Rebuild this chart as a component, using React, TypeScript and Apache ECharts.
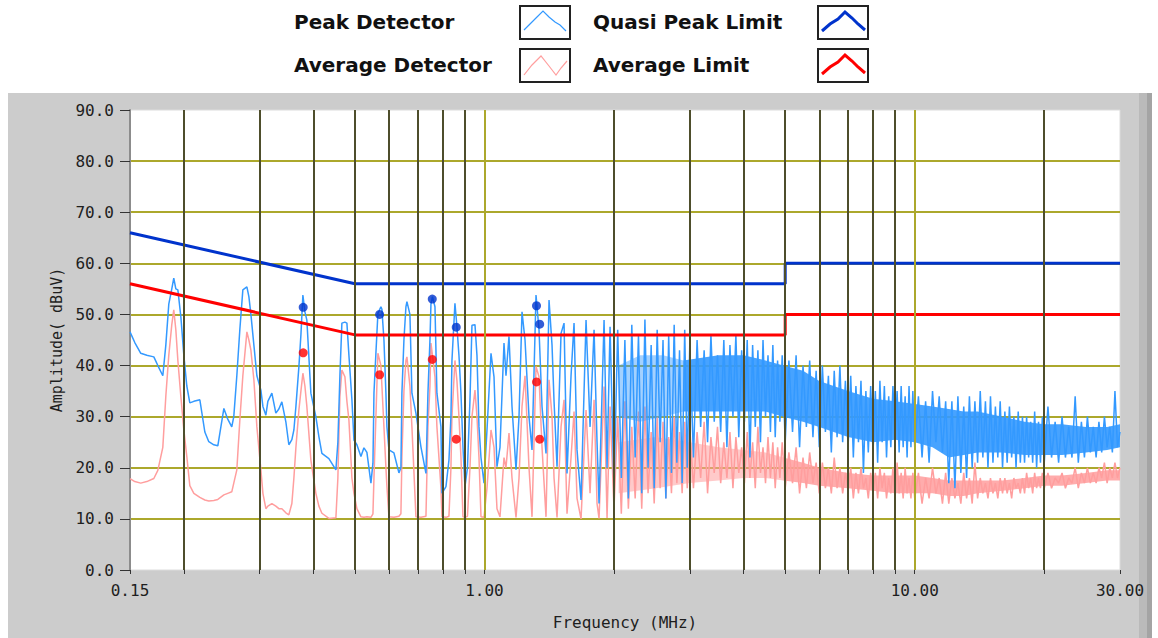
import React, { useEffect, useRef } from "react";
import * as echarts from "echarts";

// ---- Low-frequency part of the sweep (0.15 - 2 MHz) ----
const lowFreq = [
  0.150, 0.1539, 0.1589, 0.1641, 0.1704, 0.1741, 0.1788, 0.1817, 0.1846, 0.1876,
  0.1896, 0.1917, 0.1938, 0.1969, 0.2001, 0.2033, 0.2066, 0.2111, 0.2180, 0.2239,
  0.2287, 0.2349, 0.2400, 0.2479, 0.2531, 0.2586, 0.2614, 0.2657, 0.2700, 0.2744,
  0.2804, 0.2834, 0.2865, 0.2911, 0.2958, 0.3022, 0.3055, 0.3104, 0.3137, 0.3205,
  0.3274, 0.3327, 0.3381, 0.3454, 0.3510, 0.3567, 0.3606, 0.3645, 0.3704, 0.3744,
  0.3784, 0.3825, 0.3865, 0.3949, 0.4056, 0.4122, 0.4189, 0.4349, 0.4515, 0.4563,
  0.4613, 0.4662, 0.4738, 0.4789, 0.4841, 0.4919, 0.4973, 0.5052, 0.5162, 0.5246,
  0.5330, 0.5446, 0.5505, 0.5535, 0.5593, 0.5653, 0.5745, 0.5776, 0.5839, 0.5901,
  0.5933, 0.5997, 0.6160, 0.6326, 0.6394, 0.6428, 0.6498, 0.6568, 0.6603, 0.6710,
  0.6782, 0.6929, 0.7117, 0.7311, 0.7389, 0.7469, 0.7509, 0.7570, 0.7672, 0.7753,
  0.7922, 0.7964, 0.8137, 0.8268, 0.8357, 0.8402, 0.8538, 0.8630, 0.8723, 0.8817,
  0.8912, 0.9008, 0.9129, 0.9253, 0.9352, 0.9504, 0.9606, 0.9710, 0.9815, 0.9974,
  1.0135, 1.0355, 1.0523, 1.0692, 1.0865, 1.1101, 1.1220, 1.1402, 1.1587, 1.1838,
  1.2030, 1.2225, 1.2423, 1.2691, 1.2897, 1.3176, 1.3389, 1.3606, 1.3900, 1.4126,
  1.4355, 1.4510, 1.4744, 1.5064, 1.5308, 1.5554, 1.5892, 1.6150, 1.6410, 1.6766,
  1.7221, 1.7595, 1.7976, 1.8265, 1.8462, 1.8964, 1.9270, 1.9583,
];
const lowPeak = [
  46.6, 44.5, 42.4, 42.0, 41.7, 40.0, 38.0, 44.0, 52.0, 55.0,
  57.1, 55.0, 54.8, 49.6, 42.0, 36.0, 32.7, 33.0, 33.3, 27.0,
  25.1, 24.5, 24.3, 31.6, 29.5, 28.0, 30.0, 38.0, 47.0, 54.8,
  55.4, 53.5, 50.0, 44.0, 38.0, 35.2, 32.0, 30.3, 33.0, 34.6,
  30.7, 31.5, 32.9, 29.0, 24.5, 25.5, 27.4, 32.0, 39.8, 46.0,
  53.8, 50.5, 48.9, 34.6, 30.0, 26.1, 22.8, 21.8, 19.6, 25.0,
  38.0, 48.3, 48.5, 48.3, 42.0, 33.3, 25.4, 24.5, 22.2, 23.9,
  23.0, 17.0, 20.9, 34.6, 42.4, 50.2, 51.5, 51.0, 45.0, 34.6,
  28.0, 23.5, 22.9, 19.0, 20.0, 34.6, 45.0, 51.5, 52.5, 50.0,
  34.6, 30.7, 24.1, 18.9, 34.6, 45.0, 52.0, 53.5, 51.5, 34.6,
  28.0, 15.0, 16.3, 21.5, 30.0, 41.0, 52.2, 47.6, 42.0, 34.6,
  24.1, 16.3, 20.0, 33.3, 47.9, 48.0, 42.0, 28.0, 22.0, 17.0,
  27.4, 42.4, 37.8, 20.2, 24.0, 44.4, 38.0, 45.7, 32.0, 19.6,
  30.0, 50.5, 45.0, 30.0, 23.5, 53.8, 47.0, 32.0, 22.8, 52.8,
  44.0, 33.0, 20.2, 46.3, 48.3, 18.9, 38.0, 48.3, 23.5, 13.7,
  48.9, 28.0, 47.0, 25.0, 13.0, 48.9, 20.0, 47.6,
];
const lowAvg = [
  17.9, 17.3, 17.0, 17.3, 17.9, 19.5, 24.0, 34.0, 42.0, 48.0,
  50.9, 47.0, 41.0, 34.0, 27.4, 22.2, 16.5, 15.0, 14.2, 13.7,
  13.5, 13.6, 13.8, 14.7, 15.0, 15.3, 17.0, 19.6, 29.3, 38.0,
  46.6, 45.0, 43.0, 37.2, 28.0, 19.6, 15.0, 12.0, 12.5, 13.0,
  12.5, 12.0, 12.0, 11.2, 10.8, 13.0, 18.0, 24.0, 31.3, 35.0,
  38.5, 36.0, 32.0, 21.5, 15.0, 12.5, 11.1, 10.1, 10.2, 18.0,
  34.0, 39.1, 37.8, 33.0, 29.3, 18.0, 15.0, 12.0, 10.4, 10.3,
  10.4, 10.3, 11.0, 18.0, 30.0, 42.4, 40.0, 36.0, 28.0, 20.0,
  16.3, 10.4, 10.3, 10.5, 11.0, 22.0, 35.0, 41.0, 41.7, 36.0,
  28.0, 10.4, 10.3, 10.5, 28.0, 35.9, 44.4, 42.0, 37.8, 28.0,
  16.0, 10.4, 10.3, 10.5, 20.0, 30.0, 41.0, 37.0, 30.0, 22.0,
  10.4, 10.3, 10.5, 20.0, 30.0, 35.2, 30.0, 22.0, 10.4, 10.3,
  16.0, 27.4, 24.0, 12.0, 10.4, 22.0, 20.0, 26.8, 18.0, 10.3,
  18.0, 32.0, 38.0, 20.0, 10.4, 39.8, 37.8, 24.0, 10.4, 37.2,
  30.0, 18.0, 10.3, 28.0, 33.3, 11.0, 22.0, 31.0, 14.0, 10.0,
  31.3, 15.0, 33.3, 13.0, 10.1, 35.9, 10.2, 32.0,
];

// ---- High-frequency part of the sweep (2 - 30 MHz) ----
const sweepFreq = [
  2.00, 2.04, 2.08, 2.12, 2.16, 2.20, 2.24, 2.28, 2.32, 2.36,
  2.40, 2.44, 2.48, 2.52, 2.56, 2.60, 2.64, 2.68, 2.72, 2.76,
  2.80, 2.84, 2.88, 2.92, 2.96,
  3.00, 3.06, 3.12, 3.18, 3.24, 3.30, 3.36, 3.42, 3.48, 3.54,
  3.60, 3.66, 3.72, 3.78, 3.84, 3.90, 3.96, 4.02, 4.08, 4.14,
  4.20, 4.26, 4.32, 4.38, 4.44, 4.50, 4.56, 4.62, 4.68, 4.74,
  4.80, 4.86, 4.92,
  5.0, 5.1, 5.2, 5.3, 5.4, 5.5, 5.6, 5.7, 5.8, 5.9,
  6.0, 6.1, 6.2, 6.3, 6.4, 6.5, 6.6, 6.7, 6.8, 6.9,
  7.0, 7.1, 7.2, 7.3, 7.4, 7.5, 7.6, 7.7, 7.8, 7.9,
  8.0, 8.1, 8.2, 8.3, 8.4, 8.5, 8.6, 8.7, 8.8, 8.9,
  9.0, 9.1, 9.2, 9.3, 9.4, 9.5, 9.6, 9.7, 9.8, 9.9,
  10.0, 10.2, 10.4, 10.6, 10.8, 11.0, 11.2, 11.4, 11.6, 11.8,
  12.0, 12.2, 12.4, 12.6, 12.8, 13.0, 13.2, 13.4, 13.6, 13.8,
  14.0, 14.2, 14.4, 14.6, 14.8, 15.0, 15.2, 15.4, 15.6, 15.8,
  16.0, 16.2, 16.4, 16.6, 16.8, 17.0, 17.2, 17.4, 17.6, 17.8,
  18.0, 18.2, 18.4, 18.6, 18.8, 19.0, 19.2, 19.4, 19.6, 19.8,
  20.0, 20.4, 20.8, 21.2, 21.6, 22.0, 22.4, 22.8, 23.2, 23.6,
  24.0, 24.4, 24.8, 25.2, 25.6, 26.0, 26.4, 26.8, 27.2, 27.6,
  28.0, 28.4, 28.8, 29.2, 29.6, 30.0,
];
const sweepPeak = [
  16, 47, 18, 45, 14, 48, 22, 46, 15, 49,
  20, 44, 16, 47, 25, 45, 14, 46, 19, 48,
  21, 43, 17, 47, 20,
  44, 22, 45, 28, 43, 25, 46, 29, 42, 27,
  45, 24, 44, 30, 46, 26, 43, 29, 45, 22,
  44, 28, 43, 25, 45, 30, 42, 27, 44, 26,
  41, 29, 42,
  25, 41, 27, 42, 24, 40, 28, 41, 26, 39,
  24, 40, 27, 38, 23, 39, 26, 40, 25, 37,
  24, 38, 22, 36, 25, 37, 19, 35, 23, 36,
  23, 35, 21, 37, 25, 36, 22, 34, 24, 36,
  25, 35, 23, 36, 24, 34, 22, 36, 24, 35,
  24, 34, 22, 33, 21, 35, 25, 34, 23, 33,
  17, 33, 16, 34, 19, 32, 18, 34, 20, 33,
  21, 35, 22, 33, 20, 34, 21, 32, 22, 33,
  20, 31, 21, 32, 22, 30, 20, 31, 21, 30,
  21, 30, 22, 29, 21, 31, 20, 29, 21, 30,
  21, 32, 22, 29, 21, 30, 22, 28, 22, 34,
  21, 29, 22, 30, 23, 28, 22, 29, 23, 30,
  24, 28, 23, 35, 24, 27,
];
const sweepAvg = [
  12, 30, 11, 33, 12, 28, 14, 31, 12, 32,
  15, 27, 13, 30, 16, 29, 14, 26, 15, 30,
  17, 27, 15, 29, 16,
  28, 16, 27, 18, 29, 15, 26, 19, 28, 17,
  25, 18, 27, 16, 26, 19, 24, 17, 27, 18,
  25, 16, 28, 19, 24, 17, 26, 18, 25, 16,
  24, 18, 25,
  16, 23, 17, 24, 15, 22, 16, 23, 17, 21,
  15, 21, 16, 20, 15, 22, 16, 20, 15, 19,
  16, 20, 14, 19, 15, 20, 16, 18, 14, 19,
  15, 19, 14, 20, 16, 19, 14, 18, 15, 20,
  14, 21, 15, 19, 14, 20, 15, 18, 14, 19,
  14, 19, 13, 18, 14, 20, 15, 18, 13, 19,
  13, 18, 14, 17, 13, 19, 14, 18, 13, 21,
  14, 18, 15, 17, 14, 18, 15, 17, 14, 18,
  15, 18, 15, 17, 14, 18, 16, 17, 15, 18,
  15, 19, 16, 18, 15, 19, 16, 18, 16, 19,
  16, 19, 16, 18, 17, 19, 16, 18, 17, 20,
  16, 19, 17, 20, 17, 19, 17, 20, 18, 21,
  17, 20, 18, 21, 18, 20,
];

// ---- Dense cores of the sweep traces (where the trace fills nearly solid) ----
// peak detector: sparse-looking part (2 - 2.9 MHz) and solid part (2.9 - 30 MHz)
const peakCoreFreqA = [2.05, 2.3, 2.6, 2.9];
const peakCoreLowA = [30, 29, 30, 31];
const peakCoreHighA = [40, 42, 42, 41];
const peakCoreFreqB = [2.9, 3.5, 4.0, 4.5, 4.95, 5.5, 6.0, 7.0, 8.0, 9.0, 10, 11, 12, 13, 14, 16, 18, 20, 22, 25, 28, 30];
const peakCoreLowB = [31, 31, 31, 31, 30, 29, 28, 26, 25, 25.5, 25, 24, 22, 22.5, 23, 23, 22.5, 22.5, 22.5, 23, 23.5, 24];
const peakCoreHighB = [41, 42, 42, 41, 40, 39, 37, 35, 33.5, 33, 32.5, 32, 31.5, 31, 31, 30, 29, 28.5, 28.5, 28, 28, 28.5];
// average detector
const avgCoreFreqA = [2.05, 2.5, 3.0, 3.5, 4.0, 4.5, 4.95];
const avgCoreLowA = [15, 16, 17, 17.5, 18, 18, 17.5];
const avgCoreHighA = [25, 26, 25, 24, 23.5, 23, 22];
const avgCoreFreqB = [4.95, 5.5, 6, 7, 8, 9, 10, 11, 12, 13, 14, 16, 18, 20, 22, 25, 28, 30];
const avgCoreLowB = [17.5, 17, 16.5, 16, 15.5, 15, 15, 15, 14.5, 14.5, 15, 15.5, 16, 16.5, 16.5, 17, 17.5, 17.5];
const avgCoreHighB = [22, 21, 20, 19, 18.5, 18.5, 18.5, 18, 17.5, 17.5, 17.5, 17.5, 18, 18.5, 18.5, 19, 19.5, 19.5];

// ---- Limits ----
const limitFreq = [0.15, 0.5, 5, 5, 30];
const qpLimit = [66, 56, 56, 60, 60];
const avLimit = [56, 46, 46, 50, 50];

// ---- Measured points ----
const markFreq = [0.379, 0.5705, 0.7562, 0.8597, 1.3211, 1.3438];
const qpMarks = [51.4, 50.0, 53.0, 47.5, 51.7, 48.1];
const avMarks = [42.5, 38.2, 41.2, 25.6, 36.8, 25.6];

// ---- Axis ----
const minorGrid = [0.2, 0.3, 0.4, 0.5, 0.6, 0.7, 0.8, 0.9, 2, 3, 4, 5, 6, 7, 8, 9, 20];
const majorGrid = [1, 10];
const xLabelValues = [0.15, 1, 10, 30];

const zip = (fs: number[], vs: number[]) => {
  const n = Math.min(fs.length, vs.length);
  const out: number[][] = [];
  for (let i = 0; i < n; i++) out.push([fs[i], vs[i]]);
  return out;
};

const MONO = '"DejaVu Sans Mono", monospace';
const BOLD = 'bold 20px "DejaVu Sans", sans-serif';
const PEAK_C = "#3399ff";
const AVG_C = "#ff9e9e";

export default function App() {
  const ref = useRef<HTMLDivElement>(null);
  useEffect(() => {
    if (!ref.current) return;
    const chart = echarts.init(ref.current, null, { renderer: "svg" });
    const peakData = zip(lowFreq, lowPeak).concat(zip(sweepFreq, sweepPeak));
    const avgData = zip(lowFreq, lowAvg).concat(zip(sweepFreq, sweepAvg));
    const tickValues = [0.15, ...minorGrid, ...majorGrid, 30].sort((a, b) => a - b);

    const legendText = (text: string, x: number, y: number) => ({
      type: "text",
      x,
      y,
      silent: true,
      style: { text, font: BOLD, fill: "#111", verticalAlign: "middle", align: "left" },
    });
    const legendBox = (x: number, y: number) => ({
      type: "rect",
      silent: true,
      shape: { x, y, width: 50, height: 33 },
      style: { fill: "#fff", stroke: "#222", lineWidth: 2 },
    });
    const legendLine = (points: number[][], color: string, w: number) => ({
      type: "polyline",
      silent: true,
      shape: { points },
      style: { stroke: color, lineWidth: w, fill: null },
    });
    const band = (fs: number[], lo: number[], hi: number[], color: string, opacity: number, z: number) => ({
      type: "custom",
      z,
      silent: true,
      clip: true,
      data: [[fs[0], lo[0]]],
      renderItem: (_params: any, api: any) => {
        const top = fs.map((f, i) => api.coord([f, hi[i]]));
        const bot = fs.map((f, i) => api.coord([f, lo[i]])).reverse();
        return {
          type: "polygon",
          shape: { points: top.concat(bot) },
          style: { fill: color, opacity },
        };
      },
    });

    chart.setOption({
      animation: false,
      backgroundColor: "#ffffff",
      textStyle: { fontFamily: MONO },
      graphic: [
        { type: "rect", z: -10, silent: true, shape: { x: 8, y: 93, width: 1142, height: 545 }, style: { fill: "#cccccc" } },
        { type: "rect", z: -9, silent: true, shape: { x: 1139, y: 93, width: 8, height: 545 }, style: { fill: "#bababa" } },
        { type: "rect", z: -9, silent: true, shape: { x: 1147, y: 93, width: 5, height: 545 }, style: { fill: "#a4a4a4" } },
        legendText("Peak Detector", 294, 22),
        legendText("Average Detector", 294, 65),
        legendText("Quasi Peak Limit", 593, 22),
        legendText("Average Limit", 593, 65),
        legendBox(520, 6),
        legendBox(520, 49),
        legendBox(818, 6),
        legendBox(818, 49),
        legendLine([[524, 30], [531, 23], [536, 18], [543, 11], [549, 17], [555, 22], [560, 25], [566, 31]], PEAK_C, 1.2),
        legendLine([[524, 75], [532, 65], [541, 56], [549, 66], [556, 75], [561, 68], [567, 61]], AVG_C, 1.2),
        legendLine([[822, 31], [830, 24], [838, 19], [845, 12], [852, 18], [858, 24], [865, 30]], "#0033cc", 3),
        legendLine([[822, 74], [830, 67], [838, 62], [845, 55], [852, 61], [858, 67], [865, 73]], "#ff0000", 3),
      ],
      grid: {
        left: 130,
        top: 110,
        width: 990,
        height: 460,
        show: true,
        backgroundColor: "#ffffff",
        borderColor: "#dcdcdc",
        borderWidth: 1,
      },
      xAxis: {
        type: "log",
        logBase: 10,
        min: 0.15,
        max: 30,
        offset: 4,
        axisLine: { show: false },
        axisTick: { show: true, length: 4, customValues: tickValues, lineStyle: { color: "#333", width: 1 } },
        minorTick: { show: false },
        axisLabel: {
          customValues: xLabelValues,
          formatter: (v: number) => v.toFixed(2),
          fontFamily: MONO,
          fontSize: 16,
          color: "#1e1e1e",
          margin: 8,
        },
        splitLine: { show: false },
        name: "Frequency (MHz)",
        nameLocation: "middle",
        nameGap: 40,
        nameTextStyle: { fontFamily: MONO, fontSize: 16, color: "#1e1e1e" },
      },
      yAxis: {
        type: "value",
        min: 0,
        max: 90,
        interval: 10,
        axisLine: { show: true, lineStyle: { color: "#8c8c8c", width: 2 } },
        axisTick: { show: true, length: 10, lineStyle: { color: "#333", width: 1 } },
        axisLabel: {
          formatter: (v: number) => v.toFixed(1),
          fontFamily: MONO,
          fontSize: 16,
          color: "#1e1e1e",
          margin: 16,
        },
        splitLine: { show: true, showMinLine: false, showMaxLine: false, lineStyle: { color: "#aca82c", width: 2 } },
        name: "Amplitude( dBuV)",
        nameLocation: "middle",
        nameGap: 57,
        nameTextStyle: { fontFamily: MONO, fontSize: 15, color: "#1e1e1e" },
      },
      series: [
        {
          type: "line",
          name: "grid",
          data: [],
          z: 1,
          silent: true,
          markLine: {
            silent: true,
            symbol: "none",
            label: { show: false },
            data: [
              ...minorGrid.map((f) => ({ xAxis: f, lineStyle: { color: "#4e4e2c", width: 2, type: "solid" } })),
              ...majorGrid.map((f) => ({ xAxis: f, lineStyle: { color: "#aca82c", width: 2, type: "solid" } })),
            ],
          },
        },
        band(avgCoreFreqA, avgCoreLowA, avgCoreHighA, AVG_C, 0.55, 2),
        band(avgCoreFreqB, avgCoreLowB, avgCoreHighB, AVG_C, 0.85, 2),
        {
          type: "line",
          name: "Average Detector",
          data: avgData,
          showSymbol: false,
          symbol: "none",
          z: 2,
          silent: true,
          lineStyle: { color: AVG_C, width: 1.5 },
        },
        band(peakCoreFreqA, peakCoreLowA, peakCoreHighA, PEAK_C, 0.45, 3),
        band(peakCoreFreqB, peakCoreLowB, peakCoreHighB, PEAK_C, 0.9, 3),
        {
          type: "line",
          name: "Peak Detector",
          data: peakData,
          showSymbol: false,
          symbol: "none",
          z: 3,
          silent: true,
          lineStyle: { color: PEAK_C, width: 1.5 },
        },
        {
          type: "line",
          name: "Quasi Peak Limit",
          data: zip(limitFreq, qpLimit),
          showSymbol: false,
          symbol: "none",
          z: 4,
          silent: true,
          lineStyle: { color: "#0033cc", width: 3 },
        },
        {
          type: "line",
          name: "Average Limit",
          data: zip(limitFreq, avLimit),
          showSymbol: false,
          symbol: "none",
          z: 4,
          silent: true,
          lineStyle: { color: "#ff0000", width: 3 },
        },
        {
          type: "scatter",
          name: "QP",
          data: zip(markFreq, qpMarks),
          symbol: "circle",
          symbolSize: 9,
          z: 5,
          silent: true,
          itemStyle: { color: "#0033cc" },
        },
        {
          type: "scatter",
          name: "AV",
          data: zip(markFreq, avMarks),
          symbol: "circle",
          symbolSize: 9,
          z: 5,
          silent: true,
          itemStyle: { color: "#ff0000" },
        },
      ],
    });
    return () => chart.dispose();
  }, []);
  return (
    <div
      ref={ref}
      style={{ position: "absolute", left: 0, top: 0, width: 1158, height: 638 }}
    />
  );
}
